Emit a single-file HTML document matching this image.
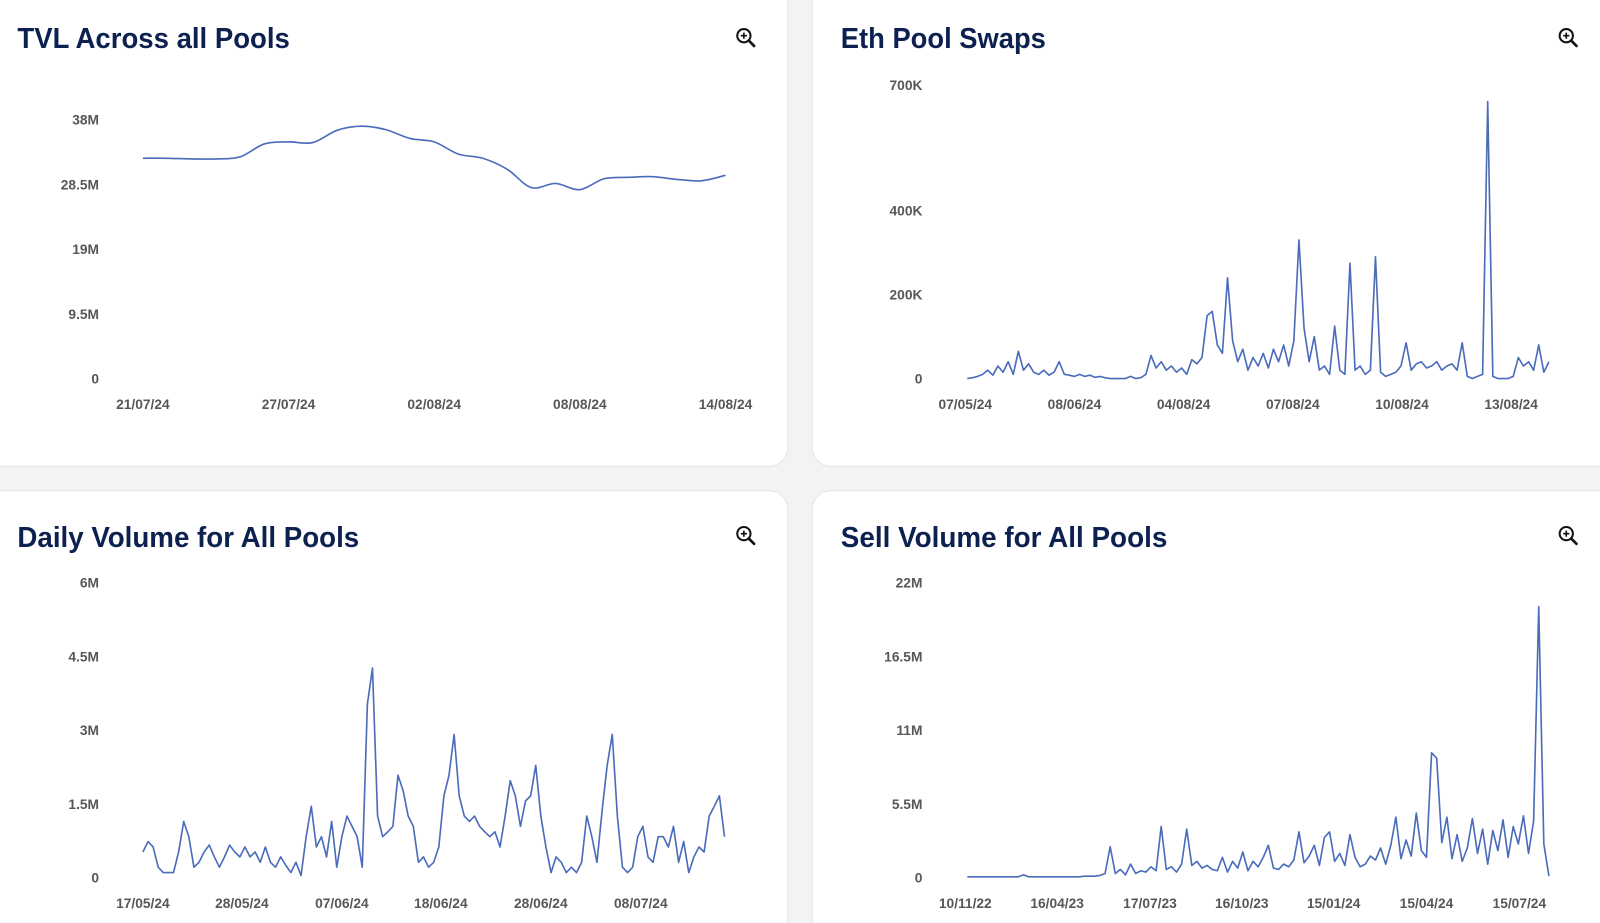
<!DOCTYPE html>
<html><head><meta charset="utf-8"><style>
html,body{margin:0;padding:0;background:#f3f3f3;width:1600px;height:923px;overflow:hidden}
svg{display:block}
.title{font-family:"Liberation Sans",sans-serif;font-weight:bold;font-size:28px;fill:#0d2150}
.tick{font-family:"Liberation Sans",sans-serif;font-weight:bold;font-size:13.5px;fill:#575757}
</style></head><body>
<svg id="root" width="1600" height="923" viewBox="0 0 1568 904.6" xmlns="http://www.w3.org/2000/svg">
<rect x="0" y="0" width="1568" height="905" fill="#f3f3f3"/>
<rect x="-20" y="-20" width="792" height="477" rx="18" fill="#fff" stroke="#e4e4e4"/>
<rect x="796" y="-20" width="800" height="477" rx="18" fill="#fff" stroke="#e4e4e4"/>
<rect x="-20" y="481" width="792" height="460" rx="18" fill="#fff" stroke="#e4e4e4"/>
<rect x="796" y="481" width="800" height="460" rx="18" fill="#fff" stroke="#e4e4e4"/>
<text class="title" x="17" y="47" textLength="267" lengthAdjust="spacingAndGlyphs">TVL Across all Pools</text>
<text class="title" x="824" y="47" textLength="201" lengthAdjust="spacingAndGlyphs">Eth Pool Swaps</text>
<text class="title" x="17" y="536" textLength="335" lengthAdjust="spacingAndGlyphs">Daily Volume for All Pools</text>
<text class="title" x="824" y="536" textLength="320" lengthAdjust="spacingAndGlyphs">Sell Volume for All Pools</text>
<g id="g"></g>
</svg>
<script>
const NS='http://www.w3.org/2000/svg';
const G=document.getElementById('g');

// TVL (M), daily
const tvlValues=[32.3,32.3,32.2,32.2,32.5,34.4,34.7,34.6,36.4,37.0,36.5,35.2,34.7,32.9,32.3,30.7,28.0,28.6,27.7,29.3,29.5,29.6,29.2,29.0,29.8];
const tvlTickLabels=['21/07/24','27/07/24','02/08/24','08/08/24','14/08/24'];
const tvlTickIdx=[0,6,12,18,24];
const tvlYTicks=[0,9.5,19,28.5,38];
const tvlYLabels=['0','9.5M','19M','28.5M','38M'];

// Eth pool swaps (K)
const ethValues=[0,2,5,10,20,8,30,15,40,10,65,20,35,15,10,20,8,15,40,10,8,5,10,5,8,3,5,2,0,0,0,0,5,0,2,10,55,25,40,20,30,15,25,10,45,35,50,150,160,80,60,240,90,40,70,20,50,30,60,25,70,40,80,30,90,330,120,40,100,20,30,10,125,20,10,275,20,30,10,20,290,15,5,10,15,30,85,20,35,40,25,30,40,20,30,35,20,85,5,0,5,10,660,5,0,0,0,5,50,30,40,20,80,15,40];
const ethTickLabels=['07/05/24','08/06/24','04/08/24','07/08/24','10/08/24','13/08/24'];
const ethTickIdx=[-0.4,21,42.4,63.8,85.2,106.6];
const ethYTicks=[0,200,400,700];
const ethYLabels=['0','200K','400K','700K'];

// Daily volume (M)
const dailyValues=[0.52,0.73,0.62,0.21,0.10,0.10,0.10,0.52,1.14,0.83,0.21,0.31,0.52,0.66,0.42,0.21,0.42,0.66,0.52,0.42,0.62,0.42,0.52,0.31,0.62,0.31,0.21,0.42,0.25,0.10,0.31,0.04,0.83,1.45,0.62,0.83,0.42,1.14,0.21,0.83,1.25,1.04,0.83,0.21,3.53,4.26,1.25,0.83,0.93,1.04,2.08,1.77,1.25,1.04,0.31,0.42,0.21,0.31,0.62,1.66,2.08,2.91,1.66,1.25,1.14,1.25,1.04,0.93,0.83,0.93,0.62,1.25,1.97,1.66,1.04,1.56,1.66,2.28,1.25,0.62,0.10,0.42,0.31,0.10,0.21,0.10,0.31,1.25,0.83,0.31,1.35,2.28,2.91,1.25,0.21,0.10,0.21,0.83,1.04,0.42,0.31,0.83,0.83,0.62,1.04,0.31,0.73,0.10,0.42,0.62,0.52,1.25,1.45,1.66,0.83];
const dailyTickLabels=['17/05/24','28/05/24','07/06/24','18/06/24','28/06/24','08/07/24'];
const dailyTickIdx=[0,19.4,39,58.4,78,97.6];
const dailyYTicks=[0,1.5,3,4.5,6];
const dailyYLabels=['0','1.5M','3M','4.5M','6M'];

// Sell volume (M)
const sellValues=[0.05,0.05,0.05,0.05,0.05,0.05,0.05,0.05,0.05,0.05,0.05,0.2,0.05,0.05,0.05,0.05,0.05,0.05,0.05,0.05,0.05,0.05,0.05,0.1,0.1,0.1,0.15,0.3,2.3,0.3,0.6,0.2,1.0,0.3,0.5,0.4,0.8,0.5,3.8,0.6,0.8,0.4,1.0,3.6,0.9,1.2,0.7,0.9,0.6,0.5,1.5,0.4,1.2,0.7,1.9,0.5,1.2,0.8,1.5,2.4,0.7,0.6,1.0,0.8,1.3,3.4,1.1,1.6,2.4,0.9,3.0,3.4,1.2,1.8,0.9,3.2,1.5,0.8,1.0,1.6,1.3,2.2,1.0,2.4,4.5,1.4,2.8,1.6,4.8,2.0,1.5,9.3,8.9,2.6,4.5,1.4,3.2,1.2,2.2,4.4,1.8,3.6,1.0,3.5,2.0,4.3,1.5,3.8,2.5,4.6,1.8,4.2,20.2,2.5,0.1];
const sellTickLabels=['10/11/22','16/04/23','17/07/23','16/10/23','15/01/24','15/04/24','15/07/24'];
const sellTickIdx=[-0.4,17.6,35.8,53.8,71.8,90,108.2];
const sellYTicks=[0,5.5,11,16.5,22];
const sellYLabels=['0','5.5M','11M','16.5M','22M'];

function el(tag,attrs,parent){const e=document.createElementNS(NS,tag);for(const k in attrs)e.setAttribute(k,attrs[k]);(parent||G).appendChild(e);return e;}

function chart(cfg){
  const g=el('g',{});
  
  
  const n=cfg.values.length;
  const xs=i=>cfg.x0+(cfg.x1-cfg.x0)*i/(n-1);
  const ys=v=>cfg.y0-(cfg.y0-cfg.yTop)*v/cfg.yMax;
  cfg.yTicks.forEach((t,i)=>{
    const tx=el('text',{x:cfg.yLabelX,y:ys(t)+5,'text-anchor':'end','class':'tick'},g);
    tx.textContent=cfg.yLabels[i];
    
    
  });
  cfg.tickIdx.forEach((t,i)=>{
    const tx=el('text',{x:xs(t),y:cfg.xLabelY,'text-anchor':'middle','class':'tick'},g);
    tx.textContent=cfg.tickLabels[i];
    
    
  });
  const pts=cfg.values.map((v,i)=>[xs(i),ys(v)]);
  let d='M'+pts[0][0].toFixed(1)+','+pts[0][1].toFixed(1);
  if(cfg.smooth){
    for(let i=0;i<pts.length-1;i++){
      const p0=pts[Math.max(0,i-1)],p1=pts[i],p2=pts[i+1],p3=pts[Math.min(pts.length-1,i+2)];
      const c1=[p1[0]+(p2[0]-p0[0])/6,p1[1]+(p2[1]-p0[1])/6];
      const c2=[p2[0]-(p3[0]-p1[0])/6,p2[1]-(p3[1]-p1[1])/6];
      d+='C'+c1.join(',')+' '+c2.join(',')+' '+p2.join(',');
    }
  } else {
    for(let i=1;i<pts.length;i++) d+='L'+pts[i][0].toFixed(1)+','+pts[i][1].toFixed(1);
  }
  const p=el('path',{d:d,fill:'none',stroke:'#4a6cbb','stroke-width':1.6,'stroke-linejoin':'round'},g);
  
  
  // zoom icon
  const ic=el('g',{transform:'translate('+cfg.iconX+','+cfg.iconY+')'},g);
  
  
  el('circle',{cx:-2,cy:-2,r:6.5,fill:'none',stroke:'#111','stroke-width':2},ic);
  el('path',{d:'M-5,-2H1M-2,-5V1',stroke:'#111','stroke-width':1.6},ic);
  el('path',{d:'M2.8,2.8L8,8',stroke:'#111','stroke-width':2.6,'stroke-linecap':'round'},ic);
}

chart({name:'tvl-chart',values:tvlValues,x0:140,x1:711,y0:371,yTop:117,yMax:38,yTicks:tvlYTicks,yLabels:tvlYLabels,yLabelX:97,tickIdx:tvlTickIdx,tickLabels:tvlTickLabels,xLabelY:401,smooth:true,iconX:731,iconY:37});
chart({name:'eth-swaps-chart',values:ethValues,x0:948,x1:1518,y0:371,yTop:83,yMax:700,yTicks:ethYTicks,yLabels:ethYLabels,yLabelX:904,tickIdx:ethTickIdx,tickLabels:ethTickLabels,xLabelY:401,smooth:false,iconX:1537,iconY:37});
chart({name:'daily-volume-chart',values:dailyValues,x0:140,x1:710,y0:860,yTop:571,yMax:6,yTicks:dailyYTicks,yLabels:dailyYLabels,yLabelX:97,tickIdx:dailyTickIdx,tickLabels:dailyTickLabels,xLabelY:890,smooth:false,iconX:731,iconY:525});
chart({name:'sell-volume-chart',values:sellValues,x0:948,x1:1518,y0:860,yTop:571,yMax:22,yTicks:sellYTicks,yLabels:sellYLabels,yLabelX:904,tickIdx:sellTickIdx,tickLabels:sellTickLabels,xLabelY:890,smooth:false,iconX:1537,iconY:525});
</script>
</body></html>
